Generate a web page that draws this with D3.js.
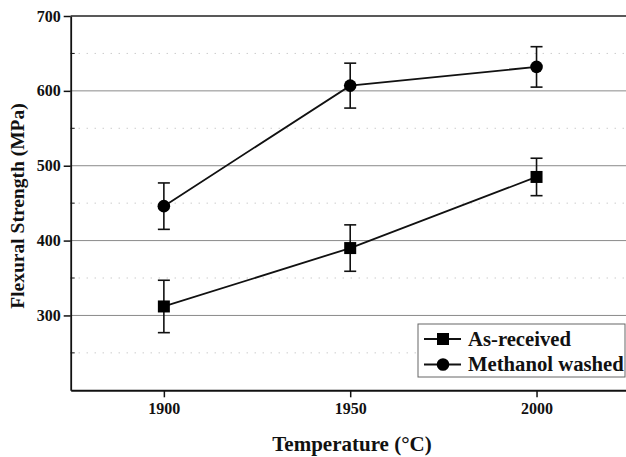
<!DOCTYPE html>
<html>
<head>
<meta charset="utf-8">
<script src="https://cdn.jsdelivr.net/npm/d3@7"></script>
<style>
  body { margin: 0; background: #fff; }
  text { font-family: "Liberation Serif", "Times New Roman", serif; font-weight: bold; }
</style>
</head>
<body>
<script>
// data
var temps = [1900, 1950, 2000];
var asReceived = [312, 390, 485];
var asReceivedErr = [35, 31, 25];
var methanol = [446, 607, 632];
var methanolErr = [31, 30, 27];
var yTicks = [300, 400, 500, 600, 700];
var yMinor = [250, 350, 450, 550, 650];
var seriesNames = ["As-received", "Methanol washed"];

var width = 626, height = 457;

var svg = d3.select("body").append("svg")
    .attr("width", width)
    .attr("height", height);

// set the ranges
var x = d3.scaleLinear().domain([1875, 2025]).range([70.7, 629.7]);
var y = d3.scaleLinear().domain([200, 700]).range([390.3, 16]);

// minor grid (dotted)
svg.append("g").selectAll("line")
    .data(yMinor).enter().append("line")
    .attr("x1", x(1875)).attr("x2", width)
    .attr("y1", function(d) { return y(d); })
    .attr("y2", function(d) { return y(d); })
    .attr("stroke", "#b4b4b4")
    .attr("stroke-width", 1)
    .attr("stroke-dasharray", "1,7");

// major grid
svg.append("g").selectAll("line")
    .data(yTicks.slice(0, 4)).enter().append("line")
    .attr("x1", x(1875)).attr("x2", width)
    .attr("y1", function(d) { return y(d); })
    .attr("y2", function(d) { return y(d); })
    .attr("stroke", "#8a8a8a")
    .attr("stroke-width", 1);

// top frame
svg.append("line")
    .attr("x1", x(1875)).attr("x2", width)
    .attr("y1", y(700)).attr("y2", y(700))
    .attr("stroke", "#222").attr("stroke-width", 1.6);

// x axis
var xAxis = svg.append("g")
    .attr("transform", "translate(0," + y(200) + ")")
    .call(d3.axisBottom(x).tickValues(temps).tickFormat(d3.format("d"))
      .tickSize(7).tickSizeOuter(0).tickPadding(5));
xAxis.select(".domain").attr("stroke", "#111").attr("stroke-width", 2);
xAxis.selectAll(".tick line").attr("stroke", "#111").attr("stroke-width", 1.5);
xAxis.selectAll("text").attr("font-size", 16).attr("fill", "#111")
    .attr("font-family", "Liberation Serif").attr("font-weight", "bold");

// y axis
var yAxis = svg.append("g")
    .attr("transform", "translate(" + x(1875) + ",0)")
    .call(d3.axisLeft(y).tickValues(yTicks).tickSize(7).tickSizeOuter(0).tickPadding(3));
yAxis.select(".domain").attr("stroke", "#111").attr("stroke-width", 1.8);
yAxis.selectAll(".tick line").attr("stroke", "#111").attr("stroke-width", 1.5);
yAxis.selectAll("text").attr("font-size", 16).attr("fill", "#111")
    .attr("font-family", "Liberation Serif").attr("font-weight", "bold");

// minor ticks inward
svg.append("g").selectAll("line")
    .data(yMinor).enter().append("line")
    .attr("x1", x(1875)).attr("x2", x(1875) + 4)
    .attr("y1", function(d) { return y(d); })
    .attr("y2", function(d) { return y(d); })
    .attr("stroke", "#111").attr("stroke-width", 1);

// axis titles
svg.append("text")
    .attr("x", 352)
    .attr("y", 451)
    .attr("text-anchor", "middle")
    .attr("font-size", 21)
    .attr("fill", "#111")
    .text("Temperature (°C)");

svg.append("text")
    .attr("transform", "translate(24,206) rotate(-90)")
    .attr("text-anchor", "middle")
    .attr("font-size", 19.5)
    .attr("fill", "#111")
    .text("Flexural Strength (MPa)");

var line = d3.line()
    .x(function(d) { return x(d[0]); })
    .y(function(d) { return y(d[1]); });

function drawSeries(vals, errs, shape) {
  var pts = temps.map(function(t, i) { return [t, vals[i], errs[i]]; });
  svg.append("path")
      .datum(pts)
      .attr("fill", "none")
      .attr("stroke", "#111")
      .attr("stroke-width", 1.8)
      .attr("d", line);

  var g = svg.append("g").selectAll("g").data(pts).enter().append("g");
  g.append("line")
      .attr("x1", function(d) { return x(d[0]); })
      .attr("x2", function(d) { return x(d[0]); })
      .attr("y1", function(d) { return y(d[1] - d[2]); })
      .attr("y2", function(d) { return y(d[1] + d[2]); })
      .attr("stroke", "#111").attr("stroke-width", 1.6);
  [-1, 1].forEach(function(s) {
    g.append("line")
        .attr("x1", function(d) { return x(d[0]) - 6; })
        .attr("x2", function(d) { return x(d[0]) + 6; })
        .attr("y1", function(d) { return y(d[1] + s * d[2]); })
        .attr("y2", function(d) { return y(d[1] + s * d[2]); })
        .attr("stroke", "#111").attr("stroke-width", 1.6);
  });
  if (shape === "square") {
    g.append("rect")
        .attr("x", function(d) { return x(d[0]) - 6; })
        .attr("y", function(d) { return y(d[1]) - 6; })
        .attr("width", 12).attr("height", 12)
        .attr("fill", "#000");
  } else {
    g.append("circle")
        .attr("cx", function(d) { return x(d[0]); })
        .attr("cy", function(d) { return y(d[1]); })
        .attr("r", 6.3)
        .attr("fill", "#000");
  }
}

drawSeries(asReceived, asReceivedErr, "square");
drawSeries(methanol, methanolErr, "circle");

// legend
var legend = svg.append("g");
legend.append("rect")
    .attr("x", 418).attr("y", 324)
    .attr("width", 207).attr("height", 53)
    .attr("fill", "#fff")
    .attr("stroke", "#666")
    .attr("stroke-width", 1);

seriesNames.forEach(function(name, i) {
  var ly = 339 + i * 25.5;
  legend.append("line")
      .attr("x1", 424).attr("x2", 461)
      .attr("y1", ly).attr("y2", ly)
      .attr("stroke", "#111").attr("stroke-width", 1.8);
  if (i === 0) {
    legend.append("rect")
        .attr("x", 437).attr("y", ly - 6)
        .attr("width", 12).attr("height", 12)
        .attr("fill", "#000");
  } else {
    legend.append("circle")
        .attr("cx", 443).attr("cy", ly)
        .attr("r", 6.3).attr("fill", "#000");
  }
  legend.append("text")
      .attr("x", 468).attr("y", ly + 6.5)
      .attr("font-size", 20.7)
      .attr("fill", "#111")
      .text(name);
});
</script>
</body>
</html>
